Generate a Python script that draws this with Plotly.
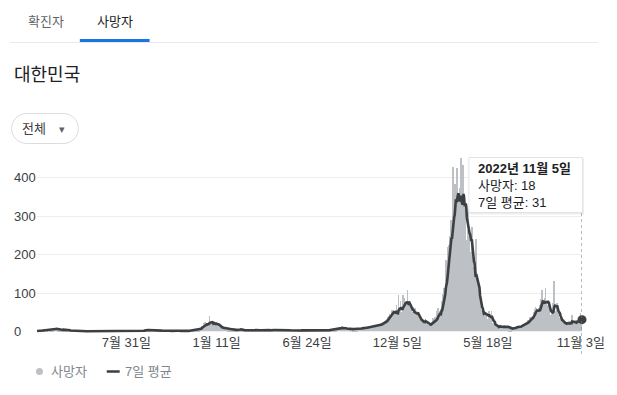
import calendar
import pandas as pd
import plotly.graph_objects as go

# ---------------- data (daily deaths, South Korea) ----------------
start_date = "2020-02-20"

deaths_2020 = [
    [1, 1, 0, 3, 2, 3, 1, 1, 1, 4],  # Feb 20-29
    [4, 5, 4, 7, 3, 7, 6, 2, 3, 3, 6, 6, 6, 6, 3, 6, 3, 6, 10, 3, 8, 9, 7, 7, 8, 6, 8, 3, 6, 4, 4],
    [3, 4, 3, 6, 3, 3, 6, 8, 4, 4, 3, 3, 3, 5, 3, 4, 2, 2, 2, 3, 1, 2, 2, 1, 1, 2, 1, 1, 1, 1],
    [2, 2, 2, 1, 2, 0, 0, 2, 0, 0, 0, 0, 1, 0, 0, 0, 0, 1, 1, 1, 0, 0, 0, 1, 0, 1, 0, 0, 1, 0, 1],
    [0, 1, 1, 0, 0, 0, 1, 0, 1, 1, 0, 0, 0, 0, 1, 1, 0, 1, 0, 1, 1, 1, 0, 0, 1, 1, 1, 0, 0, 0],
    [0, 0, 1, 1, 0, 1, 1, 1, 1, 0, 1, 1, 1, 2, 0, 0, 0, 0, 0, 1, 0, 0, 1, 1, 0, 1, 0, 1, 0, 1, 0],
    [0, 0, 1, 0, 0, 0, 0, 1, 0, 0, 0, 0, 0, 0, 1, 0, 0, 2, 1, 0, 1, 1, 1, 2, 1, 0, 1, 1, 3, 3, 2],
    [2, 3, 5, 3, 5, 2, 3, 4, 4, 5, 3, 4, 4, 5, 3, 2, 5, 3, 5, 4, 4, 3, 4, 2, 4, 3, 5, 3, 2, 2],
    [1, 2, 1, 2, 1, 1, 2, 2, 2, 3, 1, 1, 3, 2, 1, 1, 2, 1, 3, 1, 3, 3, 1, 1, 2, 1, 2, 1, 1, 3, 2],
    [2, 1, 0, 2, 2, 3, 1, 0, 2, 1, 1, 0, 3, 2, 2, 1, 1, 2, 2, 3, 1, 1, 2, 3, 3, 1, 2, 2, 5, 3],
    [3, 5, 5, 6, 4, 6, 3, 3, 8, 9, 5, 6, 6, 11, 13, 12, 14, 22, 12, 15, 24, 17, 17, 20, 20, 22, 15, 24, 40, 20, 21],
]

deaths_2021 = [
    [25, 19, 20, 19, 20, 26, 19, 15, 18, 25, 19, 19, 14, 19, 15, 12, 10, 11, 9, 9, 10, 8, 10, 8, 9, 8, 6, 7, 8, 6, 7],
    [4, 5, 8, 6, 5, 6, 6, 5, 5, 5, 6, 3, 3, 5, 3, 4, 3, 5, 5, 4, 6, 4, 8, 5, 5, 4, 3, 3],
    [2, 4, 2, 3, 4, 3, 2, 4, 4, 3, 2, 3, 4, 5, 3, 2, 4, 5, 4, 2, 5, 3, 3, 2, 4, 4, 3, 3, 4, 2, 3],
    [2, 5, 4, 3, 2, 3, 4, 2, 5, 3, 6, 4, 3, 2, 3, 4, 2, 4, 3, 5, 4, 3, 6, 4, 3, 2, 5, 4, 3, 5],
    [4, 3, 5, 4, 3, 4, 6, 5, 4, 7, 5, 4, 5, 3, 4, 5, 3, 4, 4, 3, 2, 3, 4, 3, 2, 3, 4, 2, 3, 2, 3],
    [2, 3, 3, 2, 4, 3, 1, 2, 3, 4, 2, 3, 2, 3, 2, 2, 3, 3, 4, 2, 3, 2, 3, 3, 4, 2, 2, 3, 3, 4],
    [3, 2, 1, 2, 2, 3, 2, 1, 2, 3, 2, 1, 2, 3, 3, 2, 2, 3, 2, 3, 4, 3, 2, 2, 3, 2, 4, 3, 2, 3, 3],
    [3, 4, 5, 3, 6, 4, 5, 7, 5, 6, 4, 6, 5, 7, 4, 5, 8, 6, 7, 6, 8, 9, 7, 6, 12, 13, 8, 9, 10, 7, 8],
    [8, 7, 9, 6, 8, 7, 6, 8, 7, 6, 5, 6, 8, 7, 5, 6, 7, 5, 4, 6, 7, 6, 5, 8, 7, 6, 9, 7, 8, 8],
    [8, 10, 9, 8, 7, 10, 12, 9, 11, 10, 8, 9, 12, 13, 11, 9, 14, 10, 12, 11, 13, 15, 12, 14, 16, 13, 18, 15, 17, 16, 14],
    [14, 19, 20, 17, 22, 16, 18, 21, 24, 25, 21, 26, 29, 23, 27, 32, 35, 37, 40, 39, 45, 38, 44, 52, 55, 49, 56, 52, 44, 47],
    [47, 34, 70, 43, 53, 37, 94, 63, 54, 53, 80, 40, 50, 53, 94, 70, 86, 78, 70, 61, 73, 66, 109, 67, 60, 78, 69, 50, 57, 68, 54],
]

deaths_2022 = [
    [50, 48, 64, 42, 28, 62, 53, 43, 44, 45, 49, 33, 38, 37, 36, 22, 28, 19, 27, 25, 28, 26, 24, 23, 33, 25, 24, 21, 16, 17, 13],
    [18, 20, 22, 19, 24, 16, 26, 36, 18, 29, 37, 27, 21, 40, 54, 26, 61, 45, 52, 42, 31, 59, 79, 71, 81, 98, 96, 114],
    [96, 128, 186, 112, 161, 190, 220, 198, 226, 249, 272, 289, 251, 200, 293, 429, 301, 319, 327, 384, 329, 291, 426, 400, 339, 343, 300, 267, 372, 452, 330],
    [306, 280, 432, 331, 318, 308, 333, 329, 218, 239, 264, 241, 318, 233, 273, 207, 170, 203, 271, 189, 167, 120, 149, 144, 100, 125, 240, 122, 89, 130],
    [81, 58, 77, 99, 48, 47, 51, 57, 40, 36, 45, 54, 49, 43, 42, 40, 33, 33, 52, 54, 39, 23, 25, 37, 53, 23, 18, 21, 12, 17, 27],
    [9, 12, 15, 14, 9, 11, 10, 15, 17, 12, 10, 7, 11, 14, 12, 16, 14, 12, 9, 14, 12, 9, 15, 13, 7, 5, 8, 10, 4, 9],
    [8, 9, 7, 8, 12, 9, 10, 10, 12, 14, 9, 11, 12, 15, 11, 14, 14, 13, 17, 17, 17, 14, 19, 20, 17, 20, 24, 21, 27, 29, 25],
    [28, 33, 38, 34, 35, 32, 40, 30, 46, 51, 59, 54, 63, 60, 49, 45, 49, 55, 60, 62, 68, 79, 84, 107, 78, 72, 59, 66, 59, 88, 112],
    [77, 69, 66, 59, 65, 72, 51, 41, 42, 39, 47, 53, 73, 60, 130, 55, 51, 47, 53, 60, 75, 46, 50, 29, 35, 34, 20, 35, 31, 24],
    [26, 13, 23, 19, 24, 21, 23, 18, 19, 21, 14, 26, 17, 22, 26, 27, 19, 44, 20, 17, 26, 21, 21, 23, 29, 24, 30, 24, 31, 24, 26],
    [34, 49, 36, 28, 18],  # Nov 1-5
]

tick_dates = ["2020-07-31", "2021-01-11", "2021-06-24", "2021-12-05", "2022-05-18", "2022-11-03"]
tick_labels = ["7월 31일", "1월 11일", "6월 24일", "12월 5일", "5월 18일", "11월 3일"]
y_ticks = [0, 100, 200, 300, 400]

tabs = ["확진자", "사망자"]
region_title = "대한민국"
filter_label = "전체"
series_names = ["사망자", "7일 평균"]

# ---------------- assemble ----------------
def check(year, months, first_month):
    for i, m in enumerate(months):
        mon = first_month + i
        n = calendar.monthrange(year, mon)[1]
        if year == 2020 and mon == 2:
            n = 10
        if year == 2022 and mon == 11:
            n = 5
        if len(m) != n:
            raise ValueError(f"{year}-{mon}: {len(m)} != {n}")

check(2020, deaths_2020, 2)
check(2021, deaths_2021, 1)
check(2022, deaths_2022, 1)

deaths = [v for yr in (deaths_2020, deaths_2021, deaths_2022) for m in yr for v in m]
dates = pd.date_range(start_date, periods=len(deaths), freq="D")
avg7 = pd.Series(deaths, dtype=float).rolling(7, min_periods=1).mean()

# ---------------- geometry (window pixels; page body has an 8px margin) ----------------
OFF = 8
WIN_W, WIN_H = 617, 395
FW, FH = WIN_W - OFF, WIN_H - OFF
PLOT_X0, PLOT_X1 = 37, 584          # window px
PLOT_Y0, PLOT_Y1 = 150, 333         # window px (top, bottom)
L = PLOT_X0 - OFF
R = FW - (PLOT_X1 - OFF)
T = PLOT_Y0 - OFF
B = FH - (PLOT_Y1 - OFF)
PW, PH = PLOT_X1 - PLOT_X0, PLOT_Y1 - PLOT_Y0

def px(x):
    return (x - PLOT_X0) / PW

def py(y):
    return (PLOT_Y1 - y) / PH

FONT = "Liberation Sans, Arial, Noto Sans CJK KR, sans-serif"
DARK = "#3c4043"
BAR = "#bdc1c6"

fig = go.Figure()
fig.add_trace(go.Bar(x=dates, y=deaths, marker=dict(color=BAR, line=dict(width=0)),
                     showlegend=False, hoverinfo="skip"))
fig.add_trace(go.Scatter(x=dates, y=avg7, mode="lines", line=dict(color=DARK, width=2.6),
                         showlegend=False, hoverinfo="skip"))
fig.add_trace(go.Scatter(x=[dates[-1]], y=[avg7.iloc[-1]], mode="markers",
                         marker=dict(color=DARK, size=9), cliponaxis=False,
                         showlegend=False, hoverinfo="skip"))

shapes = []
annotations = []

# header tabs
shapes.append(dict(type="line", xref="paper", yref="paper", x0=px(10), x1=px(600),
                   y0=py(42.5), y1=py(42.5), line=dict(color="#e8eaed", width=1)))
shapes.append(dict(type="rect", xref="paper", yref="paper", x0=px(80), x1=px(150),
                   y0=py(42), y1=py(39), fillcolor="#1a73e8", line=dict(width=0)))
annotations.append(dict(text=tabs[0], x=px(46), y=py(21), xref="paper", yref="paper",
                        xanchor="center", yanchor="middle", showarrow=False,
                        font=dict(size=13, color="#5f6368")))
annotations.append(dict(text=tabs[1], x=px(115), y=py(21), xref="paper", yref="paper",
                        xanchor="center", yanchor="middle", showarrow=False,
                        font=dict(size=13, color="#202124")))
annotations.append(dict(text=region_title, x=px(12), y=py(75), xref="paper", yref="paper",
                        xanchor="left", yanchor="middle", showarrow=False,
                        font=dict(size=18, color="#202124")))

# pill button
x0, x1, y0, y1, r = 11.5, 78.5, 113.5, 143.5, 15
k = 0.5523 * r
pts = [("M", [(x0 + r, y0)]), ("L", [(x1 - r, y0)]),
       ("C", [(x1 - r + k, y0), (x1, y0 + r - k), (x1, y0 + r)]),
       ("C", [(x1, y0 + r + k), (x1 - r + k, y1), (x1 - r, y1)]),
       ("L", [(x0 + r, y1)]),
       ("C", [(x0 + r - k, y1), (x0, y1 - r + k), (x0, y1 - r)]),
       ("C", [(x0, y1 - r - k), (x0 + r - k, y0), (x0 + r, y0)])]
path = " ".join(cmd + " " + " ".join(f"{px(a):.5f},{py(b):.5f}" for a, b in p) for cmd, p in pts) + " Z"
shapes.append(dict(type="path", xref="paper", yref="paper", path=path,
                   line=dict(color="#dadce0", width=1), fillcolor="white"))
annotations.append(dict(text=filter_label, x=px(20), y=py(128.5), xref="paper", yref="paper",
                        xanchor="left", yanchor="middle", showarrow=False,
                        font=dict(size=13, color=DARK)))
annotations.append(dict(text="▾", x=px(62), y=py(128.5), xref="paper", yref="paper",
                        xanchor="center", yanchor="middle", showarrow=False,
                        font=dict(size=11, color="#5f6368")))

# y tick labels (left aligned)
for v in y_ticks:
    annotations.append(dict(text=str(v), x=px(12), y=v, xref="paper", yref="y",
                            xanchor="left", yanchor="middle", showarrow=False,
                            font=dict(size=13, color=DARK)))

# legend
shapes.append(dict(type="circle", xref="paper", yref="paper", x0=px(36), x1=px(43),
                   y0=py(368), y1=py(375), fillcolor=BAR, line=dict(width=0)))
annotations.append(dict(text=series_names[0], x=px(49), y=py(371.5), xref="paper", yref="paper",
                        xanchor="left", yanchor="middle", showarrow=False,
                        font=dict(size=13, color="#80868b")))
shapes.append(dict(type="line", xref="paper", yref="paper", x0=px(107), x1=px(120),
                   y0=py(371.5), y1=py(371.5), line=dict(color=DARK, width=2.5)))
annotations.append(dict(text=series_names[1], x=px(123), y=py(371.5), xref="paper", yref="paper",
                        xanchor="left", yanchor="middle", showarrow=False,
                        font=dict(size=13, color="#80868b")))

# hover indicator + tooltip
shapes.append(dict(type="line", xref="x", yref="paper", x0=dates[-1], x1=dates[-1],
                   y0=py(213), y1=py(357), line=dict(color="#70757a", width=1, dash="dot")))
shapes.append(dict(type="rect", xref="paper", yref="paper", x0=px(471), x1=px(586),
                   y0=py(158.5), y1=py(214.5), fillcolor="rgba(0,0,0,0.07)", line=dict(width=0)))
shapes.append(dict(type="rect", xref="paper", yref="paper", x0=px(470.5), x1=px(584.5),
                   y0=py(157.5), y1=py(212.5), fillcolor="white", line=dict(color="#e3e3e3", width=1)))
d = dates[-1]
tip = (f"<b>{d.year}년 {d.month}월 {d.day}일</b><br>"
       f"{series_names[0]}: {deaths[-1]}<br>{series_names[1]}: {round(avg7.iloc[-1])}")
annotations.append(dict(text=tip, x=px(478), y=py(185.5), xref="paper", yref="paper",
                        xanchor="left", yanchor="middle", align="left", showarrow=False,
                        font=dict(size=13, color="#202124")))

fig.update_layout(
    width=FW, height=FH,
    margin=dict(l=L, r=R, t=T, b=B, pad=0),
    paper_bgcolor="white", plot_bgcolor="white",
    font=dict(family=FONT, size=13, color=DARK),
    bargap=0,
    showlegend=False,
    shapes=shapes,
    annotations=annotations,
    hovermode=False,
    xaxis=dict(type="date", range=[dates[0], dates[-1]], tickmode="array",
               tickvals=tick_dates, ticktext=tick_labels, showgrid=False,
               zeroline=False, showline=False, ticks="",
               tickfont=dict(size=13, color=DARK), fixedrange=True),
    yaxis=dict(range=[-4, 472], tickmode="array", tickvals=y_ticks, showticklabels=False,
               showgrid=True, gridcolor="#eeeeee", gridwidth=1, zeroline=False,
               showline=False, ticks="", fixedrange=True),
)

fig.write_html("out.html")
